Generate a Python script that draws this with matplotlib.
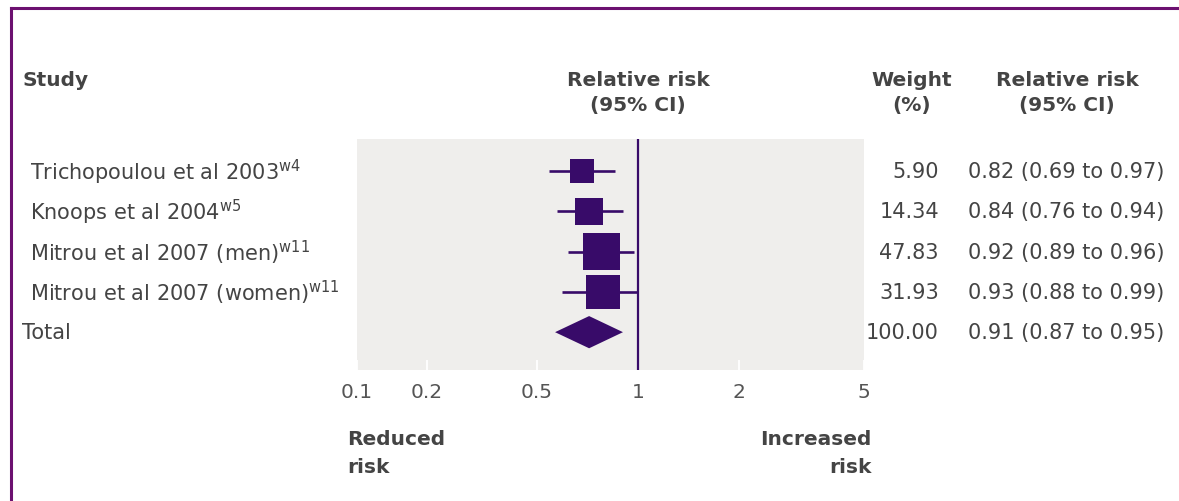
import numpy as np
import matplotlib
matplotlib.use("Agg")
import matplotlib.pyplot as plt
import matplotlib.transforms as mtransforms
from matplotlib.lines import Line2D

plt.rcParams["font.family"] = ["DejaVu Sans"]
plt.rcParams["mathtext.default"] = "regular"

## Data ##
studies = [
    "Trichopoulou et al 2003",
    "Knoops et al 2004",
    "Mitrou et al 2007 (men)",
    "Mitrou et al 2007 (women)",
]
refs = ["w4", "w5", "w11", "w11"]
weights = [5.90, 14.34, 47.83, 31.93]
total_weight = 100.00

# relative risks as printed in the right hand column
rr_est = [0.82, 0.84, 0.92, 0.93]
rr_lo = [0.69, 0.76, 0.89, 0.88]
rr_hi = [0.97, 0.94, 0.96, 0.99]
total_est, total_lo, total_hi = 0.91, 0.87, 0.95

# positions of the marks as drawn on the axis
plot_est = [0.680, 0.715, 0.778, 0.786]
plot_lo = [0.543, 0.574, 0.618, 0.594]
plot_hi = [0.854, 0.902, 0.973, 1.000]
plot_total = [0.566, 0.715, 0.902]

tick_vals = [0.1, 0.2, 0.5, 1, 2, 5]
tick_labels = ["0.1", "0.2", "0.5", "1", "2", "5"]
# the printed axis is not quite logarithmic: relative spacing of the ticks
tick_spacing = [0, 70, 180, 281, 382, 507]

PURPLE = "#380b69"
FRAME = "#6c1070"
GREY_BG = "#efeeec"
TXT = "#444444"
W, H = 1179, 502


def fwd(x):
    x = np.clip(np.asarray(x, dtype=float), 1e-6, None)
    return np.interp(np.log10(x), np.log10(tick_vals), tick_spacing)


def inv(p):
    return 10 ** np.interp(p, tick_spacing, np.log10(tick_vals))


fig = plt.figure(figsize=(W / 100, H / 100), dpi=100)
ax = fig.add_axes([357 / W, 1 - 371 / H, 507 / W, 231 / H])
ax.set_facecolor(GREY_BG)
ax.set_xscale("function", functions=(fwd, inv))
ax.set_xlim(0.1, 5)
ax.set_ylim(4.94, -0.8)
for s in ax.spines.values():
    s.set_visible(False)

rows = np.arange(len(studies))
ax.axvline(1, color=PURPLE, lw=1.6, zorder=2)
ax.hlines(rows, plot_lo, plot_hi, color=PURPLE, lw=1.9, zorder=3)
# square side grows with study weight
side_px = 16 + 3.1 * np.sqrt(weights)
ax.scatter(plot_est, rows, marker="s", s=(side_px * 0.72) ** 2,
           color=PURPLE, linewidths=0, zorder=4)

# pooled estimate
yt = len(studies)
ax.fill([plot_total[0], plot_total[1], plot_total[2], plot_total[1]],
        [yt, yt - 0.4, yt, yt + 0.4], color=PURPLE, lw=0, zorder=4)

ax.set_xticks(tick_vals, labels=tick_labels)
ax.xaxis.set_minor_locator(matplotlib.ticker.NullLocator())
ax.tick_params(axis="x", direction="in", length=7.5, width=1.3, color="white",
               labelsize=14.5, labelcolor="#555555", pad=9)
ax.set_yticks([])

# text columns
trans = mtransforms.blended_transform_factory(fig.transFigure, ax.transData)
fs = 15
for i, (name, ref) in enumerate(zip(studies, refs)):
    fig.text(30 / W, i, f"{name}$^{{{ref}}}$", transform=trans, ha="left",
             va="center", fontsize=fs, color=TXT)
    fig.text(939 / W, i, f"{weights[i]:.2f}", transform=trans, ha="right",
             va="center", fontsize=fs, color=TXT)
    fig.text(1066 / W, i, f"{rr_est[i]:.2f} ({rr_lo[i]:.2f} to {rr_hi[i]:.2f})",
             transform=trans, ha="center", va="center", fontsize=fs, color=TXT)
fig.text(22 / W, yt, "Total", transform=trans, ha="left", va="center",
         fontsize=fs, color=TXT)
fig.text(939 / W, yt, f"{total_weight:.2f}", transform=trans, ha="right",
         va="center", fontsize=fs, color=TXT)
fig.text(1066 / W, yt, f"{total_est:.2f} ({total_lo:.2f} to {total_hi:.2f})",
         transform=trans, ha="center", va="center", fontsize=fs, color=TXT)

# headers
hdr = dict(fontsize=14.5, color=TXT, fontweight="bold", va="center")
fig.text(22 / W, 1 - 81 / H, "Study", ha="left", **hdr)
for xc, l1, l2 in [(638, "Relative risk", "(95% CI)"),
                   (912, "Weight", "(%)"),
                   (1067, "Relative risk", "(95% CI)")]:
    fig.text(xc / W, 1 - 80 / H, l1, ha="center", **hdr)
    fig.text(xc / W, 1 - 106 / H, l2, ha="center", **hdr)

fig.text(347 / W, 1 - 440 / H, "Reduced", ha="left", **hdr)
fig.text(347 / W, 1 - 468 / H, "risk", ha="left", **hdr)
fig.text(872 / W, 1 - 440 / H, "Increased", ha="right", **hdr)
fig.text(872 / W, 1 - 468 / H, "risk", ha="right", **hdr)

# frame (top and left edges of the box)
fig.add_artist(Line2D([11 / W, 1], [1 - 9 / H, 1 - 9 / H], color=FRAME, lw=2.2,
                      transform=fig.transFigure))
fig.add_artist(Line2D([11 / W, 11 / W], [0, 1 - 9 / H], color=FRAME, lw=2.2,
                      transform=fig.transFigure))

fig.savefig("out.png", dpi=100, facecolor="white")
